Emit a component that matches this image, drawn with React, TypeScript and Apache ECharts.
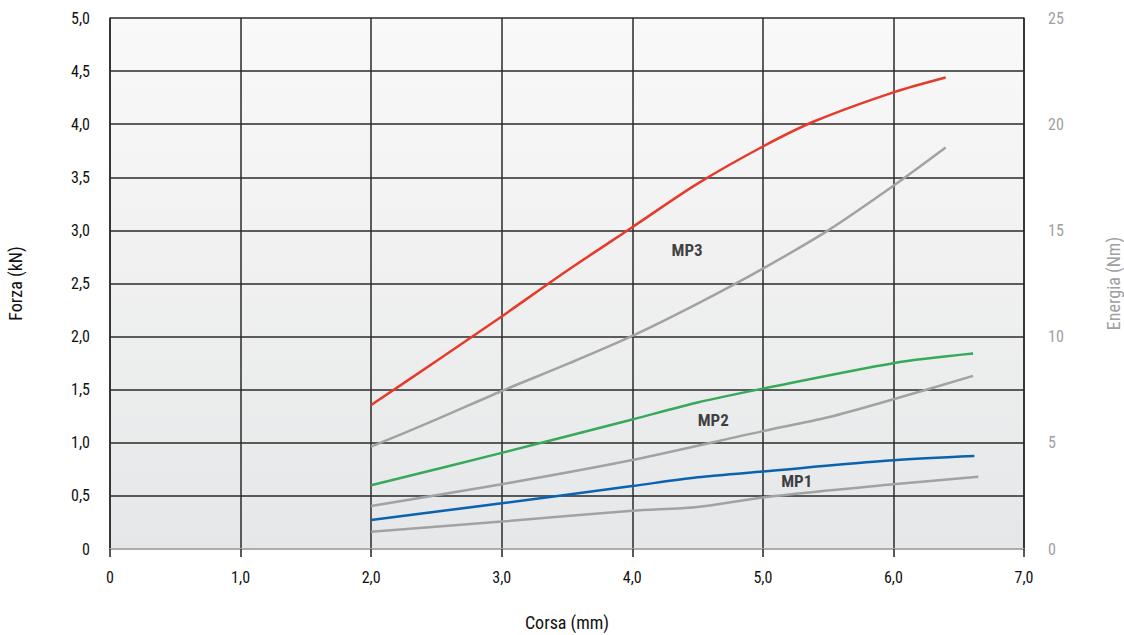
import React, { useEffect, useRef } from "react";
import * as echarts from "echarts";

const FONT = '"Liberation Sans Narrow", "Roboto Condensed", "Arial Narrow", Roboto, sans-serif';

const xTicks = [0, 1, 2, 3, 4, 5, 6, 7];

const mp3X = [2.0, 2.5, 3.0, 3.5, 4.0, 4.5, 5.0, 5.4, 6.0, 6.4];
const mp3Force = [1.356, 1.77, 2.19, 2.62, 3.03, 3.44, 3.79, 4.03, 4.3, 4.44];
const mp3EX = [2.0, 2.5, 3.0, 3.5, 4.0, 4.5, 5.0, 5.5, 6.0, 6.4];
const mp3Energy = [4.82, 6.1, 7.44, 8.7, 10.03, 11.55, 13.2, 15.0, 17.1, 18.9];

const mp2X = [2.0, 3.0, 4.0, 4.5, 5.0, 6.0, 6.61];
const mp2Force = [0.6, 0.905, 1.22, 1.38, 1.51, 1.75, 1.84];
const mp2EX = [2.0, 3.0, 4.0, 5.0, 5.5, 6.0, 6.61];
const mp2Energy = [2.02, 3.05, 4.19, 5.55, 6.2, 7.05, 8.15];

const mp1X = [2.0, 3.0, 4.0, 4.5, 5.0, 6.0, 6.62];
const mp1Force = [0.273, 0.43, 0.593, 0.675, 0.73, 0.835, 0.875];
const mp1EX = [2.0, 3.0, 4.0, 4.5, 5.0, 6.0, 6.65];
const mp1Energy = [0.81, 1.29, 1.8, 1.98, 2.43, 3.05, 3.4];

const labelNames = ["MP3", "MP2", "MP1"];
const labelX = [4.42, 4.62, 5.26];
const labelY = [2.815, 1.215, 0.64];

const zip = (xs: number[], ys: number[]) => xs.map((x, i) => [x, ys[i]]);
const fmt = (v: number) => (v === 0 ? "0" : v.toFixed(1).replace(".", ","));

export default function App() {
  const ref = useRef<HTMLDivElement>(null);
  useEffect(() => {
    if (!ref.current) return;
    const chart = echarts.init(ref.current, undefined, { renderer: "svg" });
    const lineSeries = (name: string, data: number[][], color: string, yAxisIndex: number) => ({
      name,
      type: "line",
      yAxisIndex,
      data,
      smooth: 0.3,
      symbol: "none",
      lineStyle: { color, width: 2.5 },
      z: 5,
    });
    chart.setOption({
      animation: false,
      backgroundColor: "#ffffff",
      textStyle: { fontFamily: FONT },
      grid: {
        left: 110,
        right: 100,
        top: 18,
        bottom: 86,
        outerBoundsMode: "none",
        containLabel: false,
        show: true,
        borderWidth: 0,
        backgroundColor: new echarts.graphic.LinearGradient(0, 0, 0, 1, [
          { offset: 0, color: "#f9f9f9" },
          { offset: 1, color: "#e6e7e8" },
        ]),
      },
      xAxis: {
        type: "value",
        min: 0,
        max: 7,
        interval: 1,
        name: "Corsa (mm)",
        nameLocation: "middle",
        nameGap: 64,
        nameTextStyle: { fontFamily: FONT, fontSize: 18, color: "#111" },
        axisLine: { show: true, lineStyle: { color: "#c8c8c8", width: 1.5 } },
        axisTick: { show: true, length: 8, lineStyle: { color: "#222", width: 1.5 } },
        axisLabel: { formatter: (v: number) => fmt(v), fontFamily: FONT, fontSize: 16, color: "#111", margin: 20 },
        splitLine: { show: true, lineStyle: { color: "#2a2a2a", width: 1.5 } },
      },
      yAxis: [
        {
          type: "value",
          min: 0,
          max: 5,
          interval: 0.5,
          name: "Forza (kN)",
          nameLocation: "middle",
          nameGap: 86,
          nameTextStyle: { fontFamily: FONT, fontSize: 18, color: "#111" },
          axisLine: { show: true, lineStyle: { color: "#2a2a2a", width: 1.5 } },
          axisTick: { show: false },
          axisLabel: { formatter: (v: number) => fmt(v), fontFamily: FONT, fontSize: 16, color: "#111", margin: 20 },
          splitLine: { show: true, lineStyle: { color: "#2a2a2a", width: 1.5 } },
        },
        {
          type: "value",
          min: 0,
          max: 25,
          interval: 5,
          position: "right",
          name: "Energia (Nm)",
          nameLocation: "middle",
          nameGap: 80,
          nameRotate: 90,
          nameTextStyle: { fontFamily: FONT, fontSize: 18, color: "#a0a0a0" },
          axisLine: { show: true, lineStyle: { color: "#2a2a2a", width: 1.5 } },
          axisTick: { show: false },
          axisLabel: { fontFamily: FONT, fontSize: 16, color: "#a0a0a0", margin: 24 },
          splitLine: { show: false },
        },
      ],
      series: [
        lineSeries("MP3 energia", zip(mp3EX, mp3Energy), "#a2a2a2", 1),
        lineSeries("MP2 energia", zip(mp2EX, mp2Energy), "#a2a2a2", 1),
        lineSeries("MP1 energia", zip(mp1EX, mp1Energy), "#a2a2a2", 1),
        lineSeries("MP3", zip(mp3X, mp3Force), "#e63a2b", 0),
        lineSeries("MP2", zip(mp2X, mp2Force), "#36a95a", 0),
        lineSeries("MP1", zip(mp1X, mp1Force), "#0b62ae", 0),
        {
          name: "labels",
          type: "scatter",
          yAxisIndex: 0,
          symbolSize: 0,
          data: labelNames.map((n, i) => ({ value: [labelX[i], labelY[i]], name: n })),
          label: {
            show: true,
            position: "inside",
            formatter: (p: any) => p.name,
            fontFamily: FONT,
            fontWeight: "bold",
            fontSize: 17,
            color: "#111",
          },
          z: 6,
        },
      ],
    });
    return () => chart.dispose();
  }, []);
  return <div ref={ref} style={{ position: "fixed", left: 0, top: 0, width: 1124, height: 635 }} />;
}
